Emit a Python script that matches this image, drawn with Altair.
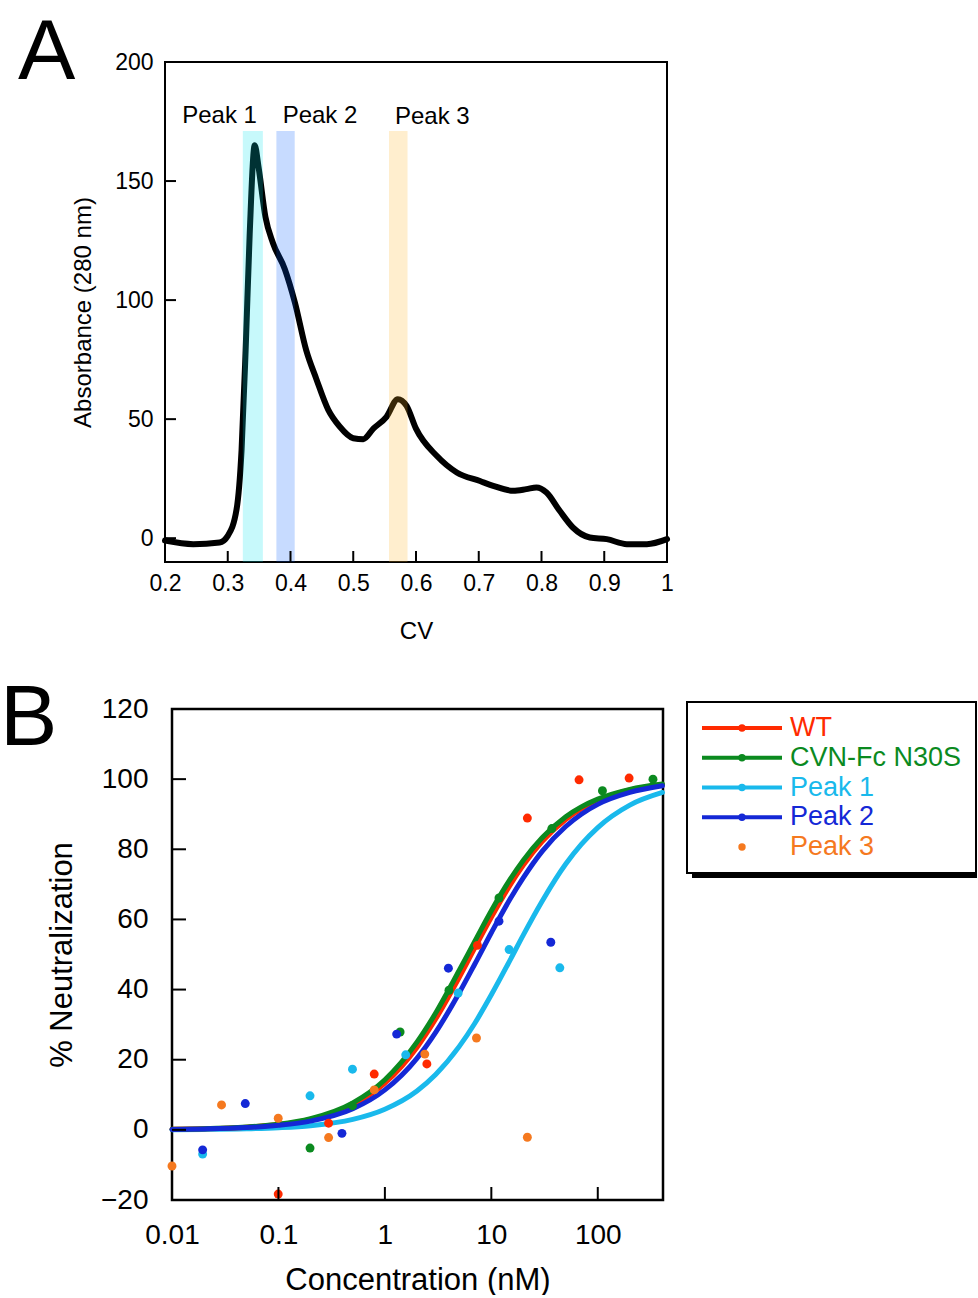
import altair as alt
import pandas as pd

FONT = "Liberation Sans"

# ---------------- Panel A : chromatogram ----------------
cv = [0.200, 0.245, 0.287, 0.300, 0.314, 0.322, 0.3285, 0.335, 0.343, 0.349,
      0.360, 0.372, 0.391, 0.407, 0.425, 0.441, 0.460, 0.478, 0.500, 0.516,
      0.532, 0.553, 0.571, 0.585, 0.600, 0.633, 0.665, 0.702, 0.723, 0.755,
      0.776, 0.792, 0.808, 0.829, 0.850, 0.877, 0.904, 0.936, 0.968, 1.000]
absorbance = [-1.0, -2.5, -1.8, 1.0, 12, 37, 79, 128, 165, 156,
              135, 124, 113, 99, 79, 67, 54, 47, 42, 41.6,
              46, 51, 58.4, 55.6, 46, 34.6, 27.6, 24, 22, 19.9,
              20.6, 21.3, 19.2, 11.5, 4.5, 0.3, -0.4, -2.5, -2.5, -0.4]

band_names = ["Peak 1", "Peak 2", "Peak 3"]
band_start = [0.324, 0.3775, 0.557]
band_end = [0.356, 0.4067, 0.5865]
band_bottom = [-10, -10, -10]
band_top = [171, 171, 171]
band_colors = ["#00e4ee", "#005aff", "#ffb020"]
label_x = [0.287, 0.447, 0.626]
label_y = [177.5, 177.5, 177.0]

a_xticks = [0.2, 0.3, 0.4, 0.5, 0.6, 0.7, 0.8, 0.9, 1.0]
a_yticks = [0, 50, 100, 150, 200]
a_inner_xticks = [0.3, 0.4, 0.5, 0.6, 0.7, 0.8, 0.9]
a_inner_yticks = [0, 50, 100, 150]

# ---------------- Panel B : neutralization ----------------
series = ["WT", "CVN-Fc N30S", "Peak 1", "Peak 2", "Peak 3"]
colors = ["#ff2a00", "#0b8a1f", "#19b9ec", "#1428d6", "#f5791f"]
legend_has_line = [1, 1, 1, 1, 0]

wt_conc = [0.0995, 0.296, 0.794, 2.48, 7.41, 21.8, 66.7, 197]
wt_neut = [-18.3, 1.9, 15.9, 18.8, 52.6, 88.9, 99.8, 100.3]
n30s_conc = [0.198, 0.496, 1.39, 4.0, 11.8, 37, 110.6, 330]
n30s_neut = [-5.2, 6.9, 27.9, 39.8, 66.1, 85.9, 96.7, 100]
p1_conc = [0.0194, 0.198, 0.496, 1.57, 4.88, 14.7, 44]
p1_neut = [-6.9, 9.7, 17.3, 21.4, 39, 51.4, 46.2]
p2_conc = [0.0194, 0.0488, 0.395, 1.29, 3.95, 11.8, 36.2]
p2_neut = [-5.7, 7.5, -1.0, 27.3, 46.1, 59.5, 53.5]
p3_conc = [0.01, 0.0292, 0.0995, 0.296, 0.794, 2.37, 7.25, 21.8]
p3_neut = [-10.3, 7.1, 3.3, -2.2, 11.4, 21.6, 26.2, -2.1]

fit_conc = [0.01, 0.02, 0.05, 0.1, 0.2, 0.5, 1, 2, 3, 5, 7, 10, 15, 20, 30, 50, 70, 100, 200, 405]
fit_wt = [0.15, 0.31, 0.76, 1.5, 3.0, 7.1, 13.3, 23.5, 31.6, 43.5, 51.9, 60.6, 69.8, 75.5, 82.2, 88.5, 91.5, 93.9, 96.9, 98.4]
fit_n30s = [0.17, 0.33, 0.83, 1.6, 3.2, 7.7, 14.3, 25.0, 33.3, 45.5, 53.8, 62.5, 71.4, 76.9, 83.3, 89.3, 92.1, 94.3, 97.1, 98.6]
fit_p1 = [0.06, 0.12, 0.31, 0.62, 1.2, 3.0, 5.9, 11.1, 15.8, 23.8, 30.4, 38.5, 48.4, 55.6, 65.2, 75.8, 81.4, 86.2, 92.6, 96.2]
fit_p2 = [0.13, 0.26, 0.64, 1.3, 2.5, 6.0, 11.4, 20.4, 27.8, 39.1, 47.3, 56.2, 65.8, 71.9, 79.4, 86.5, 90.0, 92.8, 96.2, 98.1]

b_xticks = [0.01, 0.1, 1, 10, 100]
b_yticks = [-20, 0, 20, 40, 60, 80, 100, 120]
b_inner_xticks = [0.1, 1, 10, 100]
b_inner_yticks = [0, 20, 40, 60, 80, 100]

letters = ["A", "B"]

# ---------------- sizes ----------------
AW, AH = 502, 500
BOFF = 7            # panel B frame starts 7 px right of panel A frame
BW, BH = 498, 491   # view width incl. the 7 px offset
LW, LH = 289, 164

dummy = pd.DataFrame({"k": [0]})


def axis(title, lsize, tsize, lpad, tpad, values, fmt=None):
    kw = dict(values=values, title=title, labelFontSize=lsize, titleFontSize=tsize,
              labelPadding=lpad, titlePadding=tpad, tickSize=0, tickWidth=0,
              domain=False, grid=False, labelFlush=False, labelOverlap=False,
              titleFontWeight="normal", labelColor="black", titleColor="black",
              labelFont=FONT, titleFont=FONT)
    if fmt:
        kw["format"] = fmt
    return alt.Axis(**kw)


# ---------- Panel A ----------
ax_x = axis("CV", 23, 24, 10, 24, a_xticks, "~g")
ax_y = axis("Absorbance (280 nm)", 23, 24, 12, 19, a_yticks)
XA = alt.X("cv:Q", scale=alt.Scale(domain=[0.2, 1.0], nice=False, zero=False), axis=ax_x)
YA = alt.Y("abs:Q", scale=alt.Scale(domain=[-10, 200], nice=False, zero=False), axis=ax_y)

curve = alt.Chart(pd.DataFrame({"cv": cv, "abs": absorbance})).mark_line(
    color="black", strokeWidth=6, interpolate="monotone", strokeJoin="round", strokeCap="round"
).encode(x=XA, y=YA)

band_layers = []
for i in range(len(band_names)):
    d = pd.DataFrame({"cv": [band_start[i]], "cv2": [band_end[i]],
                      "abs": [band_bottom[i]], "abs2": [band_top[i]]})
    band_layers.append(
        alt.Chart(d).mark_rect(color=band_colors[i], opacity=0.22).encode(
            x=XA, x2="cv2:Q", y=YA, y2="abs2:Q")
    )

peak_labels = alt.Chart(pd.DataFrame({"cv": label_x, "abs": label_y, "t": band_names})).mark_text(
    font=FONT, fontSize=24, color="black", baseline="middle", align="center"
).encode(x=XA, y=YA, text="t:N")

a_xt = alt.Chart(pd.DataFrame({"cv": a_inner_xticks})).mark_rule(color="black", strokeWidth=2).encode(
    x=XA, y=alt.value(AH), y2=alt.value(AH - 11))
a_yt = alt.Chart(pd.DataFrame({"abs": a_inner_yticks})).mark_rule(color="black", strokeWidth=2).encode(
    y=YA, x=alt.value(0), x2=alt.value(11))

letter_a = alt.Chart(pd.DataFrame({"t": [letters[0]]})).mark_text(
    font=FONT, fontSize=86, align="left", baseline="top", color="black"
).encode(text="t:N", x=alt.value(-147), y=alt.value(-51))

chart_a = alt.layer(curve, *band_layers, a_xt, a_yt, peak_labels, letter_a).properties(
    width=AW, height=AH, view=alt.ViewBackground(stroke="black", strokeWidth=2))

# ---------- Panel B ----------
bx = axis("Concentration (nM)", 28, 31, 21, 16, b_xticks, "~g")
by = axis("% Neutralization", 28, 31, 17, 22, b_yticks)
XB = alt.X("conc:Q", scale=alt.Scale(type="log", domain=[0.01, 410], nice=False, range=[BOFF, BW]), axis=bx)
YB = alt.Y("neut:Q", scale=alt.Scale(domain=[-20, 120], nice=False, zero=False), axis=by)
COLOR = alt.Color("series:N", scale=alt.Scale(domain=series, range=colors), legend=None)

frame_b = alt.Chart(dummy).mark_rect(fillOpacity=0, stroke="black", strokeWidth=2.5).encode(
    x=alt.value(BOFF), x2=alt.value(BW), y=alt.value(0), y2=alt.value(BH))

fits = {"WT": fit_wt, "CVN-Fc N30S": fit_n30s, "Peak 1": fit_p1, "Peak 2": fit_p2}
line_order = ["Peak 1", "WT", "CVN-Fc N30S", "Peak 2"]
line_layers = []
for s in line_order:
    d = pd.DataFrame({"conc": fit_conc, "neut": fits[s]})
    line_layers.append(
        alt.Chart(d).mark_line(color=colors[series.index(s)], strokeWidth=5,
                               interpolate="monotone", strokeCap="round").encode(x=XB, y=YB)
    )

pts = pd.concat([
    pd.DataFrame({"conc": wt_conc, "neut": wt_neut, "series": "WT"}),
    pd.DataFrame({"conc": n30s_conc, "neut": n30s_neut, "series": "CVN-Fc N30S"}),
    pd.DataFrame({"conc": p3_conc, "neut": p3_neut, "series": "Peak 3"}),
    pd.DataFrame({"conc": p1_conc, "neut": p1_neut, "series": "Peak 1"}),
    pd.DataFrame({"conc": p2_conc, "neut": p2_neut, "series": "Peak 2"}),
], ignore_index=True)
points = alt.Chart(pts).mark_circle(size=80, opacity=1).encode(x=XB, y=YB, color=COLOR)

b_xt = alt.Chart(pd.DataFrame({"conc": b_inner_xticks})).mark_rule(color="black", strokeWidth=2).encode(
    x=XB, y=alt.value(BH), y2=alt.value(BH - 13))
b_yt = alt.Chart(pd.DataFrame({"neut": b_inner_yticks})).mark_rule(color="black", strokeWidth=2).encode(
    y=YB, x=alt.value(BOFF), x2=alt.value(BOFF + 14))

letter_b = alt.Chart(pd.DataFrame({"t": [letters[1]]})).mark_text(
    font=FONT, fontSize=86, align="left", baseline="top", color="black"
).encode(text="t:N", x=alt.value(-165), y=alt.value(-32))

chart_b = alt.layer(frame_b, *line_layers, points, b_xt, b_yt, letter_b).properties(
    width=BW, height=BH, view=alt.ViewBackground(stroke=None))

# ---------- Legend ----------
leg = pd.DataFrame({"series": series, "line": legend_has_line})
YL = alt.Y("series:N", scale=alt.Scale(domain=series, range=[4.1, 152.9]), axis=None)
shadow = alt.Chart(dummy).mark_rect(color="black").encode(
    x=alt.value(5), x2=alt.value(LW + 1), y=alt.value(-2), y2=alt.value(LH + 5))
box = alt.Chart(dummy).mark_rect(fill="white", stroke="black", strokeWidth=2).encode(
    x=alt.value(0), x2=alt.value(LW), y=alt.value(-7), y2=alt.value(LH))
leg_lines = alt.Chart(leg).transform_filter("datum.line == 1").mark_rule(strokeWidth=4).encode(
    x=alt.value(15), x2=alt.value(95), y=YL, color=COLOR)
leg_pts = alt.Chart(leg).mark_circle(size=55, opacity=1).encode(x=alt.value(55), y=YL, color=COLOR)
leg_text = alt.Chart(leg).mark_text(font=FONT, fontSize=27, align="left", baseline="middle").encode(
    x=alt.value(103), y=YL, text="series:N", color=COLOR)
legend_chart = alt.layer(shadow, box, leg_lines, leg_pts, leg_text).properties(
    width=LW, height=LH, view=alt.ViewBackground(stroke=None))

chart = alt.concat(
    chart_a,
    alt.hconcat(chart_b, legend_chart, spacing=13),
    columns=1,
    align="none",
    spacing=32,
).properties(
    padding={"left": 0, "top": 9, "right": 0, "bottom": 0},
    background="white",
).configure(font=FONT).configure_view(stroke="black", strokeWidth=2)

chart.save("out.html", embed_options={"renderer": "svg", "actions": False})
